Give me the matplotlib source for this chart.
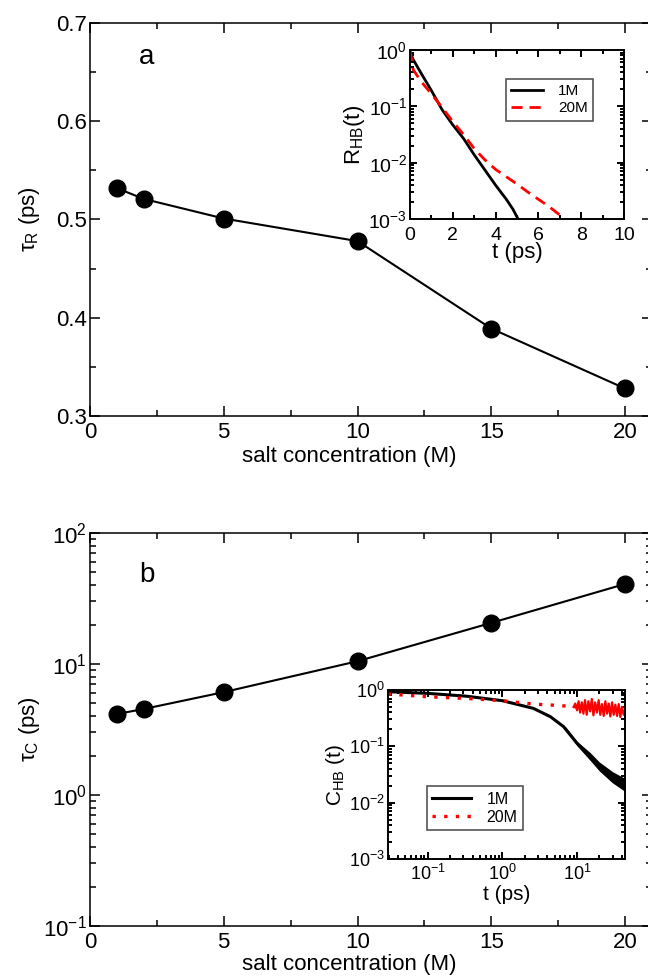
import numpy as np
import matplotlib
matplotlib.use("Agg")
import matplotlib.pyplot as plt
from matplotlib.ticker import MultipleLocator, LogLocator, NullFormatter, FormatStrFormatter

plt.rcParams['font.family'] = ['Liberation Sans', 'DejaVu Sans']
plt.rcParams['mathtext.fontset'] = 'custom'
plt.rcParams['mathtext.rm'] = 'Liberation Sans'
plt.rcParams['mathtext.it'] = 'Liberation Sans:italic'
plt.rcParams['mathtext.bf'] = 'Liberation Sans:bold'

# ---------------- data ----------------
salt = [1, 2, 5, 10, 15, 20]
tau_R = [0.532, 0.521, 0.501, 0.478, 0.389, 0.328]
tau_C = [4.15, 4.53, 6.1, 10.5, 20.6, 40.8]

# inset a: R_HB(t), log10 values
tR_1M = [0.0, 0.15, 0.5, 1.0, 1.5, 2.0, 2.5, 3.0, 3.5, 4.0, 4.5, 4.8, 5.05]
logR_1M = [-0.03, -0.17, -0.40, -0.72, -1.06, -1.33, -1.57, -1.86, -2.13, -2.40, -2.65, -2.82, -3.0]
tR_20M = [0.0, 0.15, 0.5, 1.0, 1.5, 2.0, 2.5, 3.0, 3.5, 4.0, 4.5, 5.0, 5.5, 6.0, 6.5, 7.0]
logR_20M = [0.0, -0.35, -0.55, -0.78, -1.02, -1.27, -1.50, -1.75, -1.95, -2.12, -2.25, -2.38, -2.52, -2.65, -2.78, -2.93]

# inset b: C_HB(t), log10 values
tC_1M = [0.029, 0.1, 0.33, 1.0, 2.6, 4.4, 6.6, 10.0, 15.1, 20.5, 31.0, 44.0]
logC_1M = [-0.03, -0.06, -0.11, -0.19, -0.326, -0.474, -0.65, -0.947, -1.18, -1.36, -1.54, -1.68]
tC_1M_band = [7.0, 10.0, 15.0, 20.0, 30.0, 44.0]
logC_1M_lo = [-0.69, -0.99, -1.25, -1.44, -1.65, -1.80]
logC_1M_hi = [-0.65, -0.91, -1.11, -1.28, -1.45, -1.57]

tC_20M = [0.029, 0.1, 0.33, 1.0, 2.6, 5.0, 8.0, 10.0]
logC_20M = [-0.07, -0.12, -0.15, -0.19, -0.25, -0.27, -0.29, -0.30]
tC_20M_noise = [9.0, 9.5, 10.0, 10.5, 11.0, 11.6, 12.2, 12.8, 13.5, 14.2, 15.0, 15.8, 16.6, 17.5,
                18.5, 19.5, 20.5, 21.6, 22.8, 24.0, 25.3, 26.6, 28.0, 29.5, 31.0, 32.7, 34.4,
                36.2, 38.1, 40.1, 42.2, 44.0]
logC_20M_noise = [-0.30, -0.24, -0.36, -0.20, -0.40, -0.22, -0.42, -0.18, -0.44, -0.20, -0.38,
                  -0.16, -0.45, -0.22, -0.40, -0.18, -0.44, -0.25, -0.46, -0.20, -0.42, -0.24,
                  -0.47, -0.22, -0.44, -0.26, -0.46, -0.25, -0.48, -0.30, -0.44, -0.36]

# ---------------- figure ----------------
W, H = 648, 980
fig = plt.figure(figsize=(W / 100, H / 100), dpi=100)

def px(l, t, r, b):
    return [l / W, 1 - b / H, (r - l) / W, (b - t) / H]

def style(ax, major_len=7, minor_len=4, lw=1.1, size=16, pad=2.5):
    ax.tick_params(which='both', direction='in', top=True, right=True, width=lw, labelsize=size)
    ax.tick_params(which='major', length=major_len, pad=pad)
    ax.tick_params(which='minor', length=minor_len)
    for s in ax.spines.values():
        s.set_linewidth(lw)

# ---- panel a ----
ax1 = fig.add_axes(px(90, 23, 651.75, 416))
ax1.plot(salt, tau_R, '-', color='black', lw=1.5, marker='o', ms=12, mfc='black', mec='black')
ax1.set_xlim(0, 21)
ax1.set_ylim(0.3, 0.7)
ax1.xaxis.set_major_locator(MultipleLocator(5))
ax1.xaxis.set_minor_locator(MultipleLocator(2.5))
ax1.yaxis.set_major_locator(MultipleLocator(0.1))
ax1.yaxis.set_minor_locator(MultipleLocator(0.05))
ax1.yaxis.set_major_formatter(FormatStrFormatter('%.1f'))
style(ax1)
ax1.tick_params(axis='x', which='major', pad=4.5)
ax1.set_xlabel('salt concentration (M)', fontsize=16)
ax1.xaxis.set_label_coords(0.461, -0.076, transform=ax1.transAxes)
ax1.set_ylabel('τ$_\\mathrm{R}$ (ps)', fontsize=16)
ax1.yaxis.set_label_coords(-0.085, 0.5, transform=ax1.transAxes)
ax1.text(0.101, 0.913, 'a', transform=ax1.transAxes, fontsize=20, ha='center', va='center')

# inset a
ia = fig.add_axes(px(410, 50, 624, 219))
ia.plot(tR_1M, np.power(10.0, logR_1M), '-', color='black', lw=2, label='1M')
ia.plot(tR_20M, np.power(10.0, logR_20M), '--', color='red', lw=2, dashes=(4, 2.5), label='20M')
ia.set_yscale('log')
ia.set_xlim(0, 10)
ia.set_ylim(1e-3, 1)
ia.xaxis.set_major_locator(MultipleLocator(2))
ia.xaxis.set_minor_locator(MultipleLocator(1))
ia.yaxis.set_major_locator(LogLocator(base=10, numticks=10))
ia.yaxis.set_minor_locator(LogLocator(base=10, subs=np.arange(2, 10), numticks=20))
ia.yaxis.set_minor_formatter(NullFormatter())
style(ia, major_len=5, minor_len=3, lw=1.4, size=14, pad=2)
ia.tick_params(axis='x', which='major', pad=5.5)
ia.set_xlabel('t (ps)', fontsize=16, labelpad=-1)
ia.set_ylabel('R$_\\mathrm{HB}$(t)', fontsize=16, labelpad=1)
leg = ia.legend(loc='upper left', bbox_to_anchor=(0.447, 0.828), borderaxespad=0, fontsize=11,
                frameon=True, fancybox=False, framealpha=1, edgecolor='#555555', handlelength=2.1,
                borderpad=0.35, labelspacing=0.2, handletextpad=1.0)
leg.get_frame().set_linewidth(1.2)

# ---- panel b ----
ax2 = fig.add_axes(px(90, 533, 651.75, 926))
ax2.plot(salt, tau_C, '-', color='black', lw=1.5, marker='o', ms=12, mfc='black', mec='black')
ax2.set_yscale('log')
ax2.set_xlim(0, 21)
ax2.set_ylim(0.1, 100)
ax2.xaxis.set_major_locator(MultipleLocator(5))
ax2.xaxis.set_minor_locator(MultipleLocator(2.5))
ax2.yaxis.set_major_locator(LogLocator(base=10, numticks=10))
ax2.yaxis.set_minor_locator(LogLocator(base=10, subs=np.arange(2, 10), numticks=20))
ax2.yaxis.set_minor_formatter(NullFormatter())
style(ax2)
ax2.tick_params(axis='x', which='major', pad=4.5)
ax2.set_xlabel('salt concentration (M)', fontsize=16)
ax2.xaxis.set_label_coords(0.461, -0.070, transform=ax2.transAxes)
ax2.set_ylabel('τ$_\\mathrm{C}$ (ps)', fontsize=16)
ax2.yaxis.set_label_coords(-0.085, 0.5, transform=ax2.transAxes)
ax2.text(0.101, 0.893, 'b', transform=ax2.transAxes, fontsize=20, ha='center', va='center')

# inset b
ib = fig.add_axes(px(387.7, 690, 625, 859))
ib.fill_between(tC_1M_band, np.power(10.0, logC_1M_lo), np.power(10.0, logC_1M_hi),
                color='black', lw=0)
ib.plot(tC_1M, np.power(10.0, logC_1M), '-', color='black', lw=2.2, label='1M')
ib.plot(tC_20M_noise, np.power(10.0, logC_20M_noise), '-', color='red', lw=1.6)
ib.plot(tC_20M, np.power(10.0, logC_20M), color='red', lw=2.4, linestyle=(0, (1, 2.5)), label='20M')
ib.set_xscale('log')
ib.set_yscale('log')
ib.set_xlim(0.029, 44)
ib.set_ylim(1e-3, 1)
for axis in (ib.xaxis, ib.yaxis):
    axis.set_major_locator(LogLocator(base=10, numticks=10))
    axis.set_minor_locator(LogLocator(base=10, subs=np.arange(2, 10), numticks=20))
    axis.set_minor_formatter(NullFormatter())
style(ib, major_len=5, minor_len=3, lw=1.4, size=13, pad=2)
ib.tick_params(axis='x', which='major', pad=3.5)
ib.set_xlabel('t (ps)', fontsize=15, labelpad=1)
ib.set_ylabel('C$_\\mathrm{HB}$ (t)', fontsize=15, labelpad=1)
legb = ib.legend(loc='upper left', bbox_to_anchor=(0.164, 0.432), borderaxespad=0, fontsize=11.5,
                 frameon=True, fancybox=False, framealpha=1, edgecolor='#555555', handlelength=2.4,
                 borderpad=0.35, labelspacing=0.2, handletextpad=1.0)
legb.get_frame().set_linewidth(1.2)

fig.savefig('out.png', dpi=100)
